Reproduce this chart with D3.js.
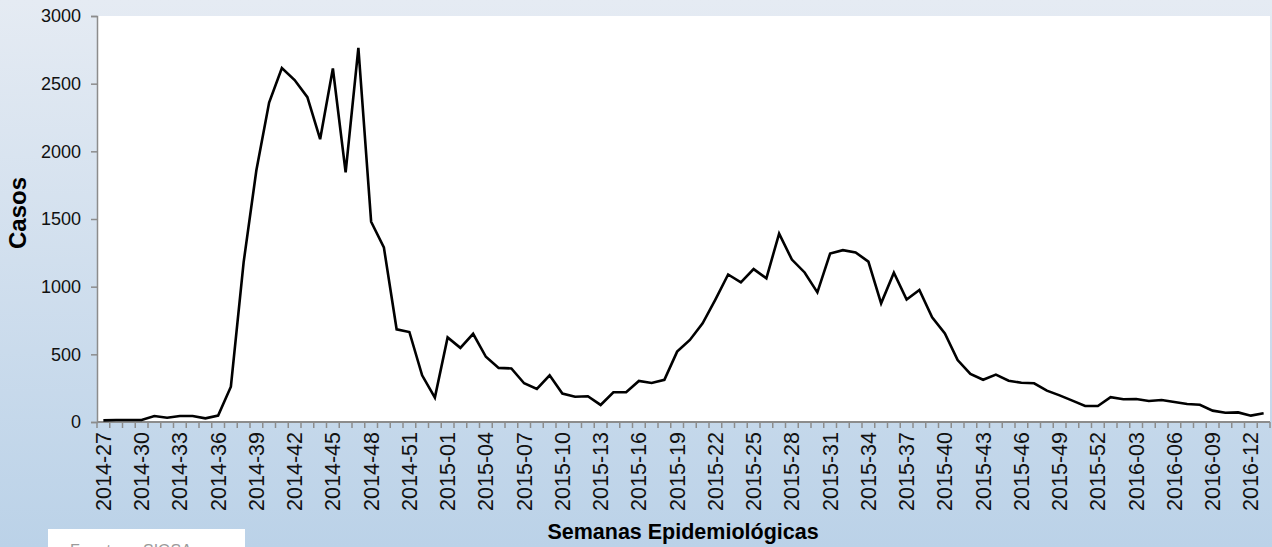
<!DOCTYPE html>
<html>
<head>
<meta charset="utf-8">
<script src="https://cdn.jsdelivr.net/npm/d3@7"></script>
<style>
  html, body { margin: 0; padding: 0; overflow: hidden; }
  svg { display: block; font-family: "Liberation Sans", Arial, sans-serif; }
</style>
</head>
<body>
<svg id="chart"></svg>
<script>
// semanas epidemiológicas (2014 tiene 53 semanas)
const weeks = [
  '2014-27','2014-28','2014-29','2014-30','2014-31','2014-32','2014-33','2014-34','2014-35',
  '2014-36','2014-37','2014-38','2014-39','2014-40','2014-41','2014-42','2014-43','2014-44',
  '2014-45','2014-46','2014-47','2014-48','2014-49','2014-50','2014-51','2014-52','2014-53',
  '2015-01','2015-02','2015-03','2015-04','2015-05','2015-06','2015-07','2015-08','2015-09',
  '2015-10','2015-11','2015-12','2015-13','2015-14','2015-15','2015-16','2015-17','2015-18',
  '2015-19','2015-20','2015-21','2015-22','2015-23','2015-24','2015-25','2015-26','2015-27',
  '2015-28','2015-29','2015-30','2015-31','2015-32','2015-33','2015-34','2015-35','2015-36',
  '2015-37','2015-38','2015-39','2015-40','2015-41','2015-42','2015-43','2015-44','2015-45',
  '2015-46','2015-47','2015-48','2015-49','2015-50','2015-51','2015-52','2016-01','2016-02',
  '2016-03','2016-04','2016-05','2016-06','2016-07','2016-08','2016-09','2016-10','2016-11',
  '2016-12','2016-13'
];

const casos = [
  12, 15, 15, 15, 44, 32, 44, 44, 27,
  47, 261, 1180, 1860, 2360, 2615, 2527, 2400, 2090,
  2612, 1845, 2765, 1480, 1290, 685, 665, 345, 180,
  625, 548, 652, 482, 400, 396, 286, 244, 345,
  210, 187, 190, 126, 220, 220, 303, 288, 312,
  520, 606, 729, 905, 1090, 1032, 1130, 1062, 1392,
  1200, 1105, 958, 1245, 1270, 1253, 1185, 877, 1103,
  905, 975, 774, 655, 458, 355, 312, 350, 305,
  290, 286, 232, 197, 158, 118, 118, 183, 168,
  170, 155, 162, 148, 133, 127, 84, 68, 71,
  47, 64
];

const yTicks = [0, 500, 1000, 1500, 2000, 2500, 3000];

const width = 1272;
const height = 547;
const margin = { top: 16, right: 2, bottom: 125, left: 97 };
const innerWidth = width - margin.left - margin.right;
const innerHeight = height - margin.top - margin.bottom;

const root = d3.select('#chart')
  .attr('width', width)
  .attr('height', height);

// fondo degradado
const defs = root.append('defs');
const grad = defs.append('linearGradient')
  .attr('id', 'bg')
  .attr('x1', 0).attr('y1', 0).attr('x2', 0).attr('y2', 1);
grad.append('stop').attr('offset', '0%').attr('stop-color', '#e5ebf3');
grad.append('stop').attr('offset', '100%').attr('stop-color', '#bbd2e8');

root.append('rect')
  .attr('width', width)
  .attr('height', height)
  .attr('fill', 'url(#bg)');

const svg = root.append('g')
  .attr('transform', `translate(${margin.left},${margin.top})`);

svg.append('rect')
  .attr('width', innerWidth)
  .attr('height', innerHeight)
  .attr('fill', '#ffffff');

const xScale = d3.scaleBand()
  .domain(weeks)
  .range([0, innerWidth])
  .padding(0);

const yScale = d3.scaleLinear()
  .domain([0, 3000])
  .range([innerHeight, 0]);

// eje Y
const yAxis = svg.append('g')
  .call(d3.axisLeft(yScale).tickValues(yTicks).tickFormat(d3.format('d')).tickSize(6).tickPadding(10));
yAxis.select('.domain').attr('stroke', '#8c8c8c').attr('stroke-width', 1.5);
yAxis.selectAll('.tick line').attr('stroke', '#8c8c8c').attr('stroke-width', 1.5);
yAxis.selectAll('.tick text')
  .attr('font-size', 18)
  .attr('fill', '#111');

// eje X: marcas entre categorias
const xAxis = svg.append('g')
  .attr('transform', `translate(0,${innerHeight})`);
xAxis.append('line')
  .attr('x1', 0).attr('x2', innerWidth)
  .attr('stroke', '#8c8c8c').attr('stroke-width', 2);
xAxis.selectAll('.xtick')
  .data(weeks)
  .enter().append('line')
  .attr('class', 'xtick')
  .attr('x1', d => xScale(d))
  .attr('x2', d => xScale(d))
  .attr('y1', 0).attr('y2', 6)
  .attr('stroke', '#8c8c8c').attr('stroke-width', 1.5);
xAxis.append('line')
  .attr('x1', innerWidth).attr('x2', innerWidth)
  .attr('y1', 0).attr('y2', 6)
  .attr('stroke', '#8c8c8c').attr('stroke-width', 1.5);

xAxis.selectAll('.xlabel')
  .data(weeks.filter((d, i) => i % 3 === 0))
  .enter().append('text')
  .attr('class', 'xlabel')
  .attr('transform', d => `translate(${xScale(d) + xScale.bandwidth() / 2 + 7.5},10) rotate(-90)`)
  .attr('text-anchor', 'end')
  .attr('font-size', 21.5)
  .attr('fill', '#111')
  .text(d => d);

// linea
const line = d3.line()
  .x((d, i) => xScale(weeks[i]) + xScale.bandwidth() / 2)
  .y(d => yScale(d));

svg.append('path')
  .datum(casos)
  .attr('fill', 'none')
  .attr('stroke', '#000')
  .attr('stroke-width', 2.6)
  .attr('stroke-linejoin', 'miter')
  .attr('d', line);

// titulos
root.append('text')
  .attr('transform', 'translate(26,213) rotate(-90)')
  .attr('text-anchor', 'middle')
  .attr('font-size', 24)
  .attr('font-weight', 'bold')
  .attr('fill', '#000')
  .text('Casos');

root.append('text')
  .attr('x', 683)
  .attr('y', 539)
  .attr('text-anchor', 'middle')
  .attr('font-size', 21.5)
  .attr('font-weight', 'bold')
  .attr('fill', '#000')
  .text('Semanas Epidemiológicas');

// cuadro de fuente (recortado abajo en el original)
root.append('rect')
  .attr('x', 48).attr('y', 529)
  .attr('width', 197).attr('height', 30)
  .attr('fill', '#ffffff');
root.append('text')
  .attr('x', 70).attr('y', 556)
  .attr('font-size', 16)
  .attr('fill', '#9a9a9a')
  .text('Fuente:');
root.append('text')
  .attr('x', 143).attr('y', 556)
  .attr('font-size', 16)
  .attr('fill', '#9a9a9a')
  .text('SIGSA');
</script>
</body>
</html>
